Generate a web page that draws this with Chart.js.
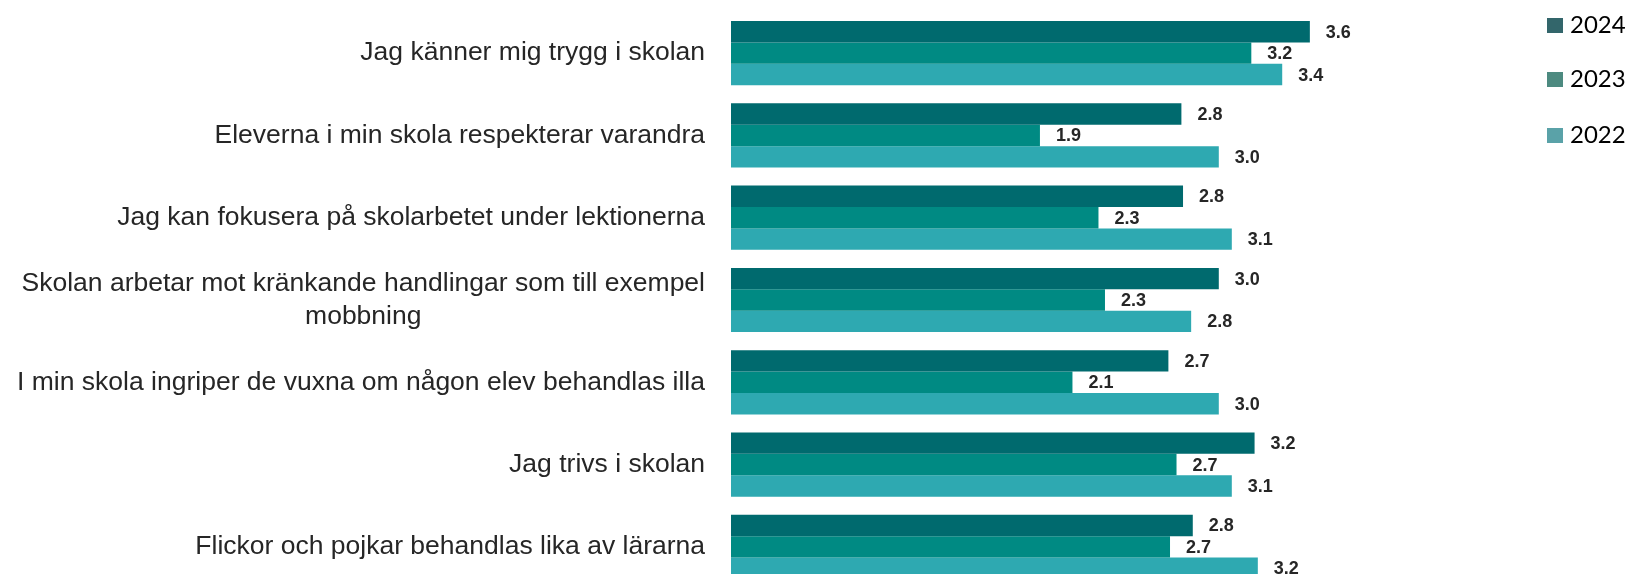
<!DOCTYPE html>
<html>
<head>
<meta charset="utf-8">
<script src="https://cdn.jsdelivr.net/npm/chart.js@4.4.1/dist/chart.umd.min.js"></script>
<style>
html, body { margin: 0; padding: 0; background: #fff; overflow: hidden; }
.wrap { position: relative; width: 1629px; height: 600px; }
.legend { position: absolute; left: 1547px; top: 0; font-family: Lato, "Open Sans", sans-serif; font-size: 24px; color: #000; }
.legend div { position: absolute; left: 0; white-space: nowrap; line-height: 26px; }
.legend span { display: inline-block; width: 16px; height: 15px; margin-right: 7px; vertical-align: 0px; }
</style>
</head>
<body>
<div class="wrap">
	<canvas id="chart" width="1629" height="600"></canvas>
	<div class="legend" id="legend"></div>
</div>
<script>
var categories = [
	["Jag känner mig trygg i skolan"],
	["Eleverna i min skola respekterar varandra"],
	["Jag kan fokusera på skolarbetet under lektionerna"],
	["Skolan arbetar mot kränkande handlingar som till exempel", "mobbning"],
	["I min skola ingriper de vuxna om någon elev behandlas illa"],
	["Jag trivs i skolan"],
	["Flickor och pojkar behandlas lika av lärarna"]
];
var years = ["2024", "2023", "2022"];
var values2024 = [3.56, 2.77, 2.78, 3.00, 2.69, 3.22, 2.84];
var values2023 = [3.20, 1.90, 2.26, 2.30, 2.10, 2.74, 2.70];
var values2022 = [3.39, 3.00, 3.08, 2.83, 3.00, 3.08, 3.24];

var barColors = ["#006a6e", "#008a83", "#2ea9b1"];
var legendColors = ["#33666b", "#4d8a80", "#5aa2a8"];

// legend is plain html on the right side
var legendTops = [11, 65, 121];
var legendBox = document.getElementById("legend");
years.forEach(function(y, i) {
	var row = document.createElement("div");
	row.style.top = legendTops[i] + "px";
	row.innerHTML = '<span style="background:' + legendColors[i] + '"></span>' + y;
	legendBox.appendChild(row);
});

// category text, last line centered under the longest one
var categoryLabels = {
	id: "categoryLabels",
	afterDraw: function(chart) {
		var ctx = chart.ctx;
		var yScale = chart.scales.y;
		var right = chart.chartArea.left - 26;
		var lineHeight = 33;
		ctx.save();
		ctx.font = '26.5px "Liberation Sans", Arial, sans-serif';
		ctx.fillStyle = "#262626";
		ctx.textAlign = "center";
		ctx.textBaseline = "middle";
		categories.forEach(function(lines, i) {
			var y = yScale.getPixelForTick(i);
			var w = 0;
			lines.forEach(function(t) { w = Math.max(w, ctx.measureText(t).width); });
			var cx = right - w / 2;
			lines.forEach(function(t, j) {
				ctx.fillText(t, cx, y + (j - (lines.length - 1) / 2) * lineHeight);
			});
		});
		ctx.restore();
	}
};

// value at the end of each bar
var valueLabels = {
	id: "valueLabels",
	afterDatasetsDraw: function(chart) {
		var ctx = chart.ctx;
		ctx.save();
		ctx.font = 'bold 18px "Liberation Sans", Arial, sans-serif';
		ctx.fillStyle = "#262626";
		ctx.textAlign = "left";
		ctx.textBaseline = "middle";
		chart.data.datasets.forEach(function(dataset, i) {
			var meta = chart.getDatasetMeta(i);
			meta.data.forEach(function(bar, index) {
				ctx.fillText(dataset.data[index].toFixed(1), bar.x + 16, bar.y + 1);
			});
		});
		ctx.restore();
	}
};

var ctx = document.getElementById("chart");
var chart = new Chart(ctx, {
	type: "bar",
	data: {
		labels: categories,
		datasets: [
			{ label: years[0], data: values2024, backgroundColor: barColors[0] },
			{ label: years[1], data: values2023, backgroundColor: barColors[1] },
			{ label: years[2], data: values2022, backgroundColor: barColors[2] }
		]
	},
	options: {
		indexAxis: "y",
		responsive: false,
		animation: false,
		events: [],
		layout: { padding: { left: 0, right: 85, top: 12, bottom: 12 } },
		datasets: { bar: { categoryPercentage: 0.78, barPercentage: 1.0 } },
		scales: {
			x: { display: false, min: 0, max: 5 },
			y: {
				grid: { display: false },
				border: { display: false },
				ticks: { display: false },
				afterFit: function(scale) { scale.width = 731; }
			}
		},
		plugins: {
			legend: { display: false },
			tooltip: { enabled: false }
		}
	},
	plugins: [categoryLabels, valueLabels]
});
</script>
</body>
</html>
